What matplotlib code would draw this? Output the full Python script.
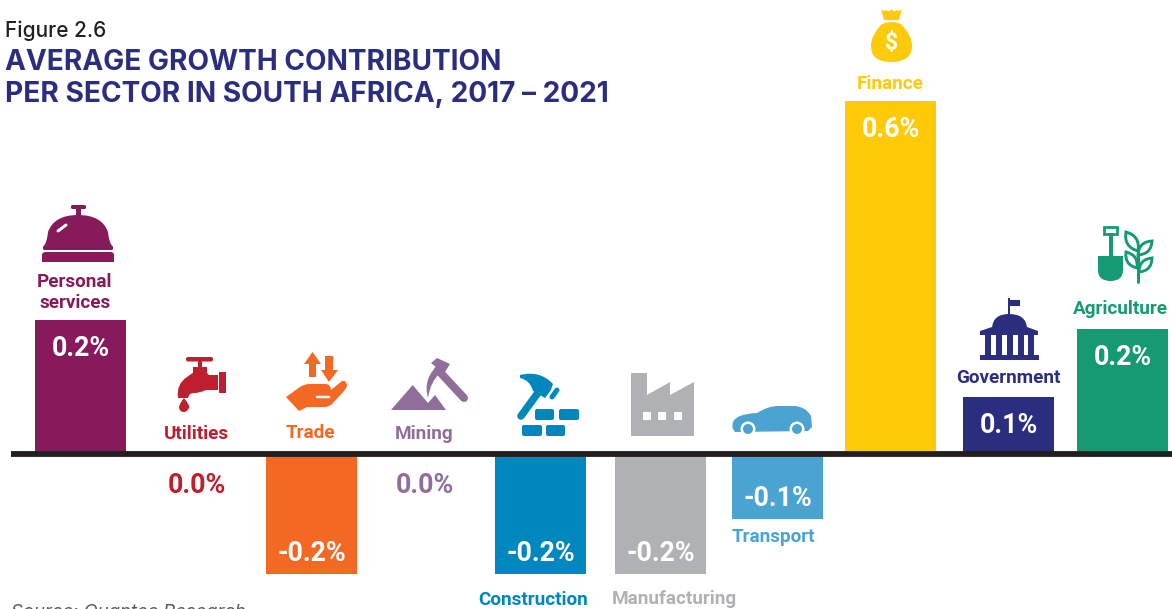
"""
plot.py
-------
Average growth contribution per sector in South Africa, 2017 - 2021.
Bars go on a value axis, icons and labels on a pixel overlay.
"""

import matplotlib
matplotlib.use("Agg")
import matplotlib.pyplot as plt
from matplotlib.patches import Circle, FancyBboxPatch, PathPatch, Rectangle
from matplotlib.path import Path

WIDTH, HEIGHT = 1172, 609

#  Data ########################################

sectors = ["Personal\nservices", "Utilities", "Trade", "Mining", "Construction",
           "Manufacturing", "Transport", "Finance", "Government", "Agriculture"]
values = [0.228, 0.0, -0.204, 0.0, -0.204, -0.204, -0.11, 0.6, 0.097, 0.213]
value_labels = ["0.2%", "0.0%", "-0.2%", "0.0%", "-0.2%",
                "-0.2%", "-0.1%", "0.6%", "0.1%", "0.2%"]
colors = ["#861A5A", "#BE1E2D", "#F36924", "#8F6F9A", "#0087BE",
          "#B0B1B4", "#4BA3D1", "#FFCB08", "#2B2E7F", "#169A74"]

#  Layout (pixels) #####################################

bar_centres = [80.5, 196, 311.5, 424, 540.5, 660.5, 777.5, 890.5, 1008.5, 1122.5]
label_centres = [75, 196, 310, 424, 533, 674, 773, 890, 1008, 1120]
label_y = [292.5, 434, 433, 434, 600, 599, 537, 84, 378, 309]
BAR_WIDTH = 91
ZERO_Y = 454
PX_PER_UNIT = 588
NAVY = colors[8]

fig = plt.figure(figsize=(WIDTH / 100, HEIGHT / 100), dpi=100)

# Value axis fills the figure, one data unit in y is PX_PER_UNIT pixels
ax = fig.add_axes([0, 0, 1, 1])
ax.set_xlim(0, WIDTH)
ax.set_ylim((ZERO_Y - HEIGHT) / PX_PER_UNIT, ZERO_Y / PX_PER_UNIT)
ax.axis("off")

ax.bar(bar_centres, values, BAR_WIDTH, color=colors, linewidth=0)
ax.plot([11, WIDTH], [0, 0], color="#231F20", linewidth=4.2, solid_capstyle="butt")

for x, v, lab, c in zip(bar_centres, values, value_labels, colors):
    if v > 0:
        offset = -28.5
    elif v < 0:
        offset = 20.5
    else:
        offset = -32
    # the two zero values sit below the line in the sector colour
    ink = "white" if v != 0 else c
    ax.annotate(lab, (x + 0.5, v), xytext=(0, offset * 0.72), textcoords="offset points",
                ha="center", va="center", family="Roboto", weight="bold",
                fontsize=19.3, color=ink)

# Overlay in pixel coordinates for icons and text
ov = fig.add_axes([0, 0, 1, 1])
ov.set_xlim(0, WIDTH)
ov.set_ylim(HEIGHT, 0)
ov.axis("off")
ov.patch.set_alpha(0)


def shape(d, color, lw=0, fill=True):
    """Draws a small path string: M x y, L x y, Q cx cy x y, C ..., Z."""
    tokens = d.split()
    verts, codes = [], []
    i = 0
    while i < len(tokens):
        cmd = tokens[i]
        i += 1
        if cmd == "Z":
            verts.append((0, 0))
            codes.append(Path.CLOSEPOLY)
            continue
        n = {"M": 1, "L": 1, "Q": 2, "C": 3}[cmd]
        code = {"M": Path.MOVETO, "L": Path.LINETO, "Q": Path.CURVE3, "C": Path.CURVE4}[cmd]
        for _ in range(n):
            verts.append((float(tokens[i]), float(tokens[i + 1])))
            codes.append(code)
            i += 2
    ov.add_patch(PathPatch(Path(verts, codes), facecolor=color if fill else "none",
                           edgecolor=color if lw else "none", linewidth=lw))


def rect(x0, y0, x1, y1, color):
    ov.add_patch(Rectangle((x0, y0), x1 - x0, y1 - y0, facecolor=color, linewidth=0))


def brick(x0, y0, x1, y1, color, r=2):
    ov.add_patch(FancyBboxPatch((x0 + r, y0 + r), x1 - x0 - 2 * r, y1 - y0 - 2 * r,
                                boxstyle=f"round,pad={r},rounding_size={r}",
                                facecolor=color, linewidth=0))


def stroke(x0, y0, x1, y1, color, w):
    ov.plot([x0, x1], [y0, y1], color=color, linewidth=w * 0.72, solid_capstyle="round")


#  Icons ########################################

def bell(c):
    brick(71, 205, 86, 209, c, r=1.5)
    rect(76, 208, 81, 216, c)
    shape("M 43 247 Q 47 243 48 232 Q 54 215 78 215 Q 102 215 108 232 Q 109 243 113 247 Z", c)
    brick(43, 246, 113, 250, c, r=1.5)
    shape("M 42 262 L 42 255 Q 42 252 46 252 L 110 252 Q 114 252 114 255 L 114 262 Z", c)
    stroke(58, 231, 66, 225, "white", 3)


def tap(c):
    brick(186, 357, 213, 361.5, c, r=2)
    rect(198, 360, 202, 368, c)
    rect(193, 367, 207, 373, c)
    shape("M 194 372 L 206 372 L 209 375 L 218 375 L 218 390 L 206 390 "
          "Q 200 393 194 393 Q 189 393 188 398 L 178 398 Q 176 384 187 377 Z", c)
    rect(219, 372, 226, 393, c)
    shape("M 184 398 Q 190 405 189 408 Q 187 412 184 412 Q 180 412 179 408 Q 179 404 184 398 Z", c)


def hand(c):
    shape("M 312.5 352 L 321 364 L 316 364 L 316 377 L 309 377 L 309 364 L 304 364 Z", c)
    shape("M 325 356 L 333 356 L 333 370 L 338 370 L 329 382 L 321 370 L 325 370 Z", c)
    shape("M 286 397 L 300 387 Q 304 384 310 384 L 326 384 Q 331 385 331 390 L 342 381 "
          "Q 346 380 347 385 Q 347 388 344 391 L 332 404 Q 329 407 324 407 L 307 407 "
          "L 299 411 Z", c)
    stroke(317, 396.5, 329, 396.5, "white", 2.5)


def mining(c):
    shape("M 391 410 L 412.7 385 L 428 403 L 435 395 L 446 410 Z", c)
    stroke(438, 370, 464, 398, c, 8)
    shape("M 431 363 L 437 358 L 450 364 L 445 372 L 441 372 "
          "Q 430 382 428 398 Q 423 380 436 367 Z", c)


def hammer(c):
    stroke(540, 390, 521, 416, c, 7.5)
    shape("M 520 375 Q 540 370 553 384 L 551 390 L 545 398 L 533 391 Q 530 380 520 378 Z", c)
    stroke(557, 390, 552, 397, c, 5)
    for x0, x1, y0 in [(535, 554, 409), (559, 579, 409), (522, 542, 425), (546, 565, 425)]:
        brick(x0, y0, x1, y0 + 11, c, r=2)


def factory(c):
    shape("M 631 436 L 631 373 L 647 373 L 647 395 L 670 382 L 670 395 L 694 382 L 694 436 Z", c)
    for x0 in [643, 658, 674]:
        rect(x0, 412, x0 + 8, 420, "white")


def car(c):
    shape("M 733 429 Q 730 420 740 416 Q 748 413 757 413 Q 768 406 778 406 L 795 406 "
          "Q 806 407 811 416 L 812 427 L 808 431 L 735 432 Z", c)
    for x0 in [748, 797]:
        ov.add_patch(Circle((x0, 429), 7.5, facecolor="white", linewidth=0))
        ov.add_patch(Circle((x0, 429), 5, facecolor=c, linewidth=0))


def moneybag(c):
    shape("M 881 9 Q 884 12 886 10 Q 889 13 891.5 9 Q 894 13 897 10 Q 899 12 902 9 "
          "L 899 20 L 884 20 Z", c)
    shape("M 882 24 Q 891 20 901 24 Q 912 35 912 46 Q 912 62 891 62 "
          "Q 871 62 871 46 Q 871 35 882 24 Z", c)
    ov.text(891.5, 43, "$", ha="center", va="center", family="Roboto", weight="bold",
            fontsize=16.5, color="white")


def capitol(c):
    rect(1008, 298, 1010, 316, c)
    rect(1009, 300, 1020, 306, c)
    shape("M 992 328 Q 993 314 1009 314 Q 1026 314 1027 328 Z", c)
    shape("M 980 331 L 992 327 L 1027 327 L 1038 331 L 1038 335 L 980 335 Z", c)
    for x0 in [985, 996, 1007, 1018, 1028]:
        rect(x0, 335, x0 + 6, 356, c)
    rect(980, 355, 1039, 360, c)


def leaf(x0, y0, x1, y1, c):
    # lens outline between two tips
    dx, dy = x1 - x0, y1 - y0
    mx, my = (x0 + x1) / 2, (y0 + y1) / 2
    shape(f"M {x0} {y0} Q {mx - dy * 0.45} {my + dx * 0.45} {x1} {y1} "
          f"Q {mx + dy * 0.45} {my - dx * 0.45} {x0} {y0} Z", c, lw=2.1, fill=False)


def agriculture(c):
    ov.add_patch(Rectangle((1104, 226.5), 13, 7, facecolor="none", edgecolor=c, linewidth=2))
    rect(1109, 233, 1112.5, 257, c)
    shape("M 1098 256 L 1123 256 L 1123 270 Q 1123 281 1110.5 281 Q 1098 281 1098 270 Z", c)
    stroke(1138, 250, 1138, 282, c, 3)
    leaf(1126, 232, 1138, 251, c)
    leaf(1138, 255, 1152, 241, c)
    leaf(1126, 252, 1137, 268, c)
    leaf(1139, 272, 1152, 258, c)


icons = [bell, tap, hand, mining, hammer, factory, car, moneybag, capitol, agriculture]
for draw, c in zip(icons, colors):
    draw(c)

#  Text ########################################

for name, x, y, c in zip(sectors, label_centres, label_y, colors):
    ov.text(x, y, name, ha="center", va="center", family="Roboto", weight="bold",
            fontsize=13.6, color=c, linespacing=1.28)

ov.text(5, 31, "Figure 2.6", ha="left", va="center", family="Inter", weight="medium",
        fontsize=15, color="#231F20")
ov.text(5, 62, "AVERAGE GROWTH CONTRIBUTION", ha="left", va="center", family="Inter",
        weight="bold", fontsize=20.2, color=NAVY)
ov.text(5, 94, "PER SECTOR IN SOUTH AFRICA, 2017 \u2013 2021", ha="left", va="center",
        family="Inter", weight="bold", fontsize=20.2, color=NAVY)
ov.text(11, 612, "Source: Quantec Research", ha="left", va="center", family="Inter",
        style="italic", fontsize=13.3, color="#58595B", clip_on=True)

fig.savefig("out.png", dpi=100)
